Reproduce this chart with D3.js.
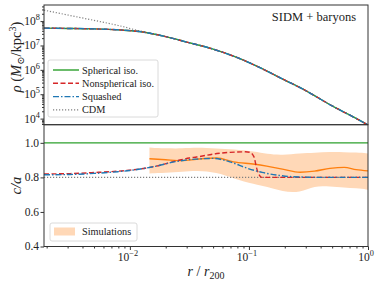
<!DOCTYPE html>
<html><head><meta charset="utf-8">
<script src="https://cdn.jsdelivr.net/npm/d3@7"></script>
<style>html,body{margin:0;padding:0;background:#fff;}svg{display:block;}</style>
</head><body>
<svg id="chart" width="381" height="284"></svg>
<script>
// ---------- data ----------
const rGrid = [0.0019,0.003,0.005,0.008,0.012,0.02,0.03,0.05,0.08,0.12,0.2,0.3,0.5,0.7,1.0];
const rhoCDM = [2.82e8,1.78e8,1.07e8,6.6e7,3.98e7,2.29e7,1.38e7,7.08e6,3.16e6,1.32e6,3.8e5,1.41e5,3.31e4,1.41e4,5.5e3];
const rhoSpherical = [5.13e7,5.0e7,4.79e7,4.37e7,3.72e7,2.3e7,1.38e7,7.08e6,3.16e6,1.32e6,3.8e5,1.41e5,3.31e4,1.41e4,5.5e3];
const rhoNonspherical = rhoSpherical.slice();
const rhoSquashed = rhoSpherical.slice();

const rShape = [0.0019,0.00316,0.005,0.00794,0.01,0.0158,0.0251,0.0316,0.0363,0.0537,0.0692,0.0933,0.102,0.110,0.117,0.128,1.0];
const caNonspherical = [0.82,0.822,0.828,0.836,0.842,0.862,0.897,0.912,0.918,0.938,0.945,0.948,0.945,0.92,0.845,0.80,0.80];
const rSq = [0.0019,0.00316,0.005,0.00794,0.01,0.0158,0.0251,0.0316,0.0363,0.0501,0.0692,0.0977,0.129,0.178,0.22,0.4,1.0];
const caSquashed = [0.815,0.817,0.823,0.833,0.84,0.862,0.893,0.903,0.906,0.91,0.89,0.852,0.829,0.812,0.805,0.80,0.80];
const caSpherical = [1.0,1.0];
const caCDM = [0.8,0.8];
const rFlat = [0.0019,1.0];

const rSim = [0.0146,0.02,0.0277,0.0363,0.0537,0.0741,0.112,0.141,0.191,0.269,0.355,0.479,0.631,0.794,1.0];
const caSimMed = [0.908,0.902,0.897,0.905,0.912,0.89,0.876,0.865,0.848,0.83,0.836,0.852,0.858,0.845,0.838];
const caSimLo = [0.823,0.826,0.832,0.840,0.829,0.794,0.76,0.747,0.717,0.711,0.752,0.747,0.742,0.737,0.729];
const caSimHi = [0.973,0.968,0.967,0.973,0.967,0.962,0.95,0.935,0.929,0.939,0.942,0.948,0.946,0.945,0.939];

const yTicksTop = [1e4,1e5,1e6,1e7,1e8];
const yTicksBot = [0.4,0.6,0.8,1.0];
const xTicks = [0.01,0.1,1];

// ---------- layout ----------
const L=44, R=368, T=5, M=124.7, B=246.5;
const svg = d3.select("#chart");
const x = d3.scaleLog().domain([0.0019,1]).range([L,R]);
const yTop = d3.scaleLog().domain([Math.pow(10,3.75),Math.pow(10,8.66)]).range([M,T]);
const yBot = d3.scaleLinear().domain([0.4,1.105]).range([B,M]);

const C = {green:"#2ca02c", red:"#d62728", blue:"#1f77b4", orange:"#ff7f0e", gray:"#808080", band:"#ffd8b7"};
const serif = "'Liberation Serif','DejaVu Serif',serif";

const defs = svg.append("defs");
defs.append("clipPath").attr("id","clipTop").append("rect").attr("x",L).attr("y",T).attr("width",R-L).attr("height",M-T);
defs.append("clipPath").attr("id","clipBot").append("rect").attr("x",L).attr("y",M).attr("width",R-L).attr("height",B-M);

// ---------- top panel ----------
const gTop = svg.append("g").attr("clip-path","url(#clipTop)");
const lineTop = (rs) => d3.line().x((d,i)=>x(rs[i])).y(d=>yTop(d)).curve(d3.curveMonotoneX);
gTop.append("path").datum(rhoCDM).attr("d",lineTop(rGrid)).attr("fill","none").attr("stroke",C.gray).attr("stroke-width",1.2).attr("stroke-dasharray","1.2,1.8");
gTop.append("path").datum(rhoSpherical).attr("d",lineTop(rGrid)).attr("fill","none").attr("stroke",C.green).attr("stroke-width",1.4);
gTop.append("path").datum(rhoNonspherical).attr("d",lineTop(rGrid)).attr("fill","none").attr("stroke",C.red).attr("stroke-width",1.4).attr("stroke-dasharray","5,2.5");
gTop.append("path").datum(rhoSquashed).attr("d",lineTop(rGrid)).attr("fill","none").attr("stroke",C.blue).attr("stroke-width",1.4).attr("stroke-dasharray","6,2,1.5,2");

// ---------- bottom panel ----------
const gBot = svg.append("g").attr("clip-path","url(#clipBot)");
gBot.append("path").datum(rSim.map((r,i)=>[r,caSimLo[i],caSimHi[i]]))
  .attr("d", d3.area().x(d=>x(d[0])).y0(d=>yBot(d[1])).y1(d=>yBot(d[2])).curve(d3.curveBasis))
  .attr("fill",C.band).attr("stroke","none");
const lineBot = (rs) => d3.line().x((d,i)=>x(rs[i])).y(d=>yBot(d)).curve(d3.curveMonotoneX);
gBot.append("path").datum(caSpherical).attr("d",lineBot(rFlat)).attr("fill","none").attr("stroke",C.green).attr("stroke-width",1.4);
gBot.append("path").datum(caCDM).attr("d",lineBot(rFlat)).attr("fill","none").attr("stroke",C.gray).attr("stroke-width",1.2).attr("stroke-dasharray","1.2,1.8");
gBot.append("path").datum(caSimMed).attr("d",lineBot(rSim)).attr("fill","none").attr("stroke",C.orange).attr("stroke-width",1.4);
gBot.append("path").datum(caNonspherical).attr("d",lineBot(rShape)).attr("fill","none").attr("stroke",C.red).attr("stroke-width",1.4).attr("stroke-dasharray","5,2.5");
gBot.append("path").datum(caSquashed).attr("d",lineBot(rSq)).attr("fill","none").attr("stroke",C.blue).attr("stroke-width",1.4).attr("stroke-dasharray","6,2,1.5,2");

// ---------- frames ----------
const axisColor = "#333";
svg.append("rect").attr("x",L).attr("y",T).attr("width",R-L).attr("height",M-T).attr("fill","none").attr("stroke",axisColor).attr("stroke-width",1);
svg.append("rect").attr("x",L).attr("y",M).attr("width",R-L).attr("height",B-M).attr("fill","none").attr("stroke",axisColor).attr("stroke-width",1);

// ---------- axes ----------
function supLabel(g, base, exp, xx, yy, anchor, size){
  const t = g.append("text").attr("x",xx).attr("y",yy).attr("text-anchor",anchor)
    .attr("font-family",serif).attr("font-size",size).attr("fill","#222");
  t.append("tspan").text(base);
  t.append("tspan").attr("dy",-size*0.42).attr("font-size",size*0.72).text(exp);
}
svg.append("g").attr("transform",`translate(${L},0)`)
  .call(d3.axisLeft(yTop).tickValues(yTicksTop).tickSize(3.5).tickFormat(""));
const minorTop = [];
for (let e=3;e<=8;e++) for (let k=2;k<=9;k++){ const v=k*Math.pow(10,e); if (v>yTop.domain()[0] && v<yTop.domain()[1]) minorTop.push(v); }
svg.append("g").attr("transform",`translate(${L},0)`).call(d3.axisLeft(yTop).tickValues(minorTop).tickSize(2).tickFormat(""));
yTicksTop.forEach(v=>{ supLabel(svg,"10",String(Math.round(Math.log10(v))),L-4,yTop(v)+4,"end",11.5); });

svg.append("g").attr("transform",`translate(${L},0)`).call(d3.axisLeft(yBot).tickValues(yTicksBot).tickSize(3.5).tickFormat(""));
yTicksBot.forEach(v=>{ svg.append("text").attr("x",L-5).attr("y",yBot(v)+3.8).attr("text-anchor","end")
  .attr("font-family",serif).attr("font-size",11.5).attr("fill","#222").text(v.toFixed(1)); });

svg.append("g").attr("transform",`translate(0,${B})`).call(d3.axisBottom(x).tickValues(xTicks).tickSize(3.5).tickFormat(""));
const minorX=[];
for (let e=-3;e<=0;e++) for (let k=2;k<=9;k++){ const v=k*Math.pow(10,e); if (v>0.0019 && v<1) minorX.push(v); }
svg.append("g").attr("transform",`translate(0,${B})`).call(d3.axisBottom(x).tickValues(minorX).tickSize(2).tickFormat(""));
xTicks.forEach(v=>{ supLabel(svg,"10",String(Math.round(Math.log10(v))).replace("-","−"),x(v)-2,B+14,"middle",11.5); });

svg.selectAll(".domain").remove();
svg.selectAll(".tick line").attr("stroke",axisColor);

// axis titles
const yl = svg.append("text").attr("transform","translate(21,57) rotate(-90)").attr("text-anchor","middle")
  .attr("font-family",serif).attr("font-size",14.5).attr("fill","#222");
yl.append("tspan").attr("font-style","italic").text("ρ");
yl.append("tspan").text(" (");
yl.append("tspan").attr("font-style","italic").text("M");
yl.append("tspan").attr("dy",3).attr("font-size",10).text("⊙");
yl.append("tspan").attr("dy",-3).text("/kpc");
yl.append("tspan").attr("dy",-5.5).attr("font-size",10).text("3");
yl.append("tspan").attr("dy",5.5).text(")");

svg.append("text").attr("transform",`translate(21,${(M+B)/2}) rotate(-90)`).attr("text-anchor","middle")
  .attr("font-family",serif).attr("font-size",14.5).attr("font-style","italic").attr("fill","#222").text("c/a");

const xl = svg.append("text").attr("x",(L+R)/2).attr("y",276).attr("text-anchor","middle")
  .attr("font-family",serif).attr("font-size",14).attr("fill","#222");
xl.append("tspan").attr("font-style","italic").text("r");
xl.append("tspan").text(" / ");
xl.append("tspan").attr("font-style","italic").text("r");
xl.append("tspan").attr("dy",3).attr("font-size",10).text("200");

svg.append("text").attr("x",356).attr("y",21).attr("text-anchor","end").attr("font-family",serif)
  .attr("font-size",12.5).attr("fill","#222").text("SIDM + baryons");

// ---------- legends ----------
const legItems = [
  {label:"Spherical iso.", color:C.green, dash:null},
  {label:"Nonspherical iso.", color:C.red, dash:"5,2.5"},
  {label:"Squashed", color:C.blue, dash:"6,2,1.5,2"},
  {label:"CDM", color:C.gray, dash:"1.2,1.8"}
];
const lg = svg.append("g");
lg.append("rect").attr("x",48).attr("y",60).attr("width",110).attr("height",57).attr("rx",2)
  .attr("fill","#fff").attr("fill-opacity",0.85).attr("stroke","#d0d0d0").attr("stroke-width",0.8);
legItems.forEach((d,i)=>{
  const yy = 70 + i*13.3;
  lg.append("line").attr("x1",53).attr("x2",79).attr("y1",yy).attr("y2",yy).attr("stroke",d.color)
    .attr("stroke-width",d.label==="CDM"?1.2:1.4).attr("stroke-dasharray",d.dash);
  lg.append("text").attr("x",82).attr("y",yy+3.5).attr("font-family",serif).attr("font-size",10.3).attr("fill","#222").text(d.label);
});
const lg2 = svg.append("g");
lg2.append("rect").attr("x",50).attr("y",223).attr("width",87).attr("height",18).attr("rx",2)
  .attr("fill","#fff").attr("fill-opacity",0.85).attr("stroke","#d0d0d0").attr("stroke-width",0.8);
lg2.append("rect").attr("x",54).attr("y",227.5).attr("width",21).attr("height",8).attr("fill",C.band);
lg2.append("text").attr("x",82).attr("y",235).attr("font-family",serif).attr("font-size",10.3).attr("fill","#222").text("Simulations");
</script>
</body></html>
